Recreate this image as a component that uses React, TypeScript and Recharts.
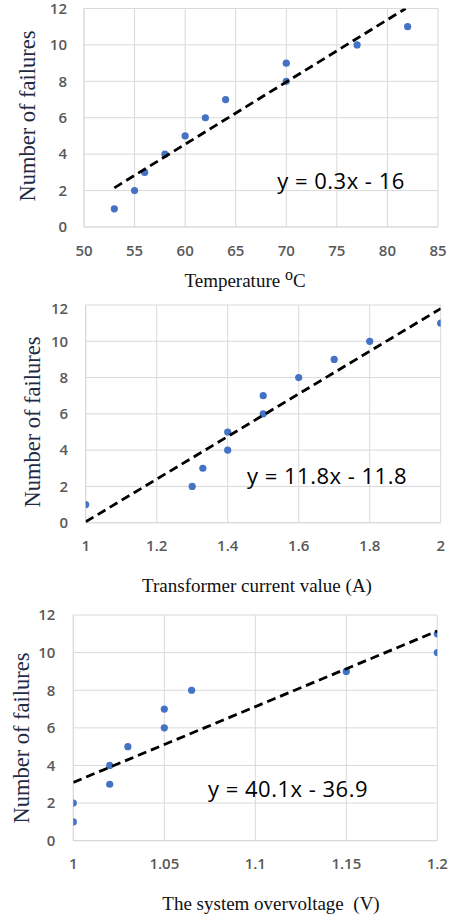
import React from "react";
import { ScatterChart, Scatter, XAxis, YAxis, CartesianGrid } from "recharts";

// Chart 1: temperature
const tempX = [53, 55, 56, 58, 60, 62, 64, 70, 70, 77, 82];
const tempY = [1, 2, 3, 4, 5, 6, 7, 8, 9, 10, 11];
const tempTrend = [
  { x: 53, y: 2.15 },
  { x: 81.8, y: 12 },
];
const tempTicks = [50, 55, 60, 65, 70, 75, 80, 85];

// Chart 2: transformer current
const currX = [1, 1.3, 1.33, 1.4, 1.4, 1.5, 1.5, 1.6, 1.7, 1.8, 2];
const currY = [1, 2, 3, 4, 5, 6, 7, 8, 9, 10, 11];
const currTrend = [
  { x: 1, y: 0.05 },
  { x: 2, y: 11.8 },
];
const currTicks = [1, 1.2, 1.4, 1.6, 1.8, 2];

// Chart 3: overvoltage
const voltX = [1, 1, 1.02, 1.02, 1.03, 1.05, 1.05, 1.065, 1.15, 1.2, 1.2];
const voltY = [1, 2, 3, 4, 5, 6, 7, 8, 9, 10, 11];
const voltTrend = [
  { x: 1, y: 3.1 },
  { x: 1.2, y: 11.15 },
];
const voltTicks = [1, 1.05, 1.1, 1.15, 1.2];

const yTicks = [0, 2, 4, 6, 8, 10, 12];

const zip = (xs: number[], ys: number[]) => xs.map((x, i) => ({ x, y: ys[i] }));

const tickStyle = { fontFamily: "'Open Sans'", fontSize: 15, fill: "#595959", fontWeight: 600 };
const serif = "'Liberation Serif', 'Times New Roman', serif";

const Dot = (p: any) => <circle cx={p.cx} cy={p.cy} r={3.6} fill="#4472C4" />;
const NoDot = () => <g />;

type PanelProps = {
  top: number;
  height: number;
  margin: { top: number; left: number; right: number; bottom: number };
  data: { x: number; y: number }[];
  trend: { x: number; y: number }[];
  xTicks: number[];
  xDomain: [number, number];
  yTickMargin: number;
  xTickMargin: number;
};

const Panel = ({ top, height, margin, data, trend, xTicks, xDomain, yTickMargin, xTickMargin }: PanelProps) => (
  <div style={{ position: "absolute", left: 0, top }}>
    <ScatterChart width={454} height={height} margin={margin}>
      <CartesianGrid stroke="#d9d9d9" strokeWidth={1} />
      <XAxis
        type="number"
        dataKey="x"
        domain={xDomain}
        ticks={xTicks}
        tick={tickStyle}
        tickLine={false}
        tickSize={0}
        tickMargin={xTickMargin}
        axisLine={{ stroke: "#d9d9d9" }}
        height={30}
        allowDataOverflow
      />
      <YAxis
        type="number"
        dataKey="y"
        domain={[0, 12]}
        ticks={yTicks}
        tick={tickStyle}
        tickLine={false}
        tickSize={0}
        tickMargin={yTickMargin}
        axisLine={{ stroke: "#d9d9d9" }}
        width={40}
        allowDataOverflow
      />
      <Scatter data={data} shape={Dot} isAnimationActive={false} />
      <Scatter
        data={trend}
        shape={NoDot}
        line={{ stroke: "#000", strokeWidth: 2.8, strokeDasharray: "9 5" }}
        isAnimationActive={false}
      />
    </ScatterChart>
  </div>
);

const Txt = ({ x, y, children, style }: any) => (
  <div
    style={{
      position: "absolute",
      left: x,
      top: y,
      transform: "translate(-50%, -50%)",
      whiteSpace: "nowrap",
      ...style,
    }}
  >
    {children}
  </div>
);

const YLab = ({ x, y }: { x: number; y: number }) => (
  <div
    style={{
      position: "absolute",
      left: x,
      top: y,
      transform: "translate(-50%, -50%) rotate(-90deg)",
      whiteSpace: "nowrap",
      fontFamily: serif,
      fontSize: 22.5,
      color: "#1f2a44",
      lineHeight: 1,
    }}
  >
    Number of failures
  </div>
);

const eqStyle = { fontFamily: "'Open Sans'", fontSize: 22, letterSpacing: 0.5, color: "#000", lineHeight: 1 };
const xLabStyle = { fontFamily: serif, fontSize: 19, color: "#111", lineHeight: 1 };

export default function App() {
  return (
    <div style={{ position: "absolute", left: 0, top: 0, width: 454, height: 917, background: "#fff", overflow: "hidden" }}>
      <Panel
        top={0}
        height={300}
        margin={{ top: 8.5, left: 44, right: 16, bottom: 43 }}
        data={zip(tempX, tempY)}
        trend={tempTrend}
        xTicks={tempTicks}
        xDomain={[50, 85]}
        yTickMargin={17}
        xTickMargin={18}
      />
      <Panel
        top={300}
        height={300}
        margin={{ top: 5, left: 45.7, right: 13.3, bottom: 47.3 }}
        data={zip(currX, currY)}
        trend={currTrend}
        xTicks={currTicks}
        xDomain={[1, 2]}
        yTickMargin={17.5}
        xTickMargin={18}
      />
      <Panel
        top={600}
        height={317}
        margin={{ top: 15, left: 33.3, right: 16.7, bottom: 46.3 }}
        data={zip(voltX, voltY)}
        trend={voltTrend}
        xTicks={voltTicks}
        xDomain={[1, 1.2]}
        yTickMargin={18}
        xTickMargin={18}
      />
      <YLab x={28} y={116} />
      <YLab x={33} y={422} />
      <YLab x={22} y={738} />
      <Txt x={341} y={180} style={eqStyle}>y = 0.3x - 16</Txt>
      <Txt x={327} y={475} style={eqStyle}>y = 11.8x - 11.8</Txt>
      <Txt x={288} y={788} style={eqStyle}>y = 40.1x - 36.9</Txt>
      <Txt x={245} y={278} style={xLabStyle}>
        Temperature <sup style={{ fontSize: 16, verticalAlign: "7px" }}>o</sup>C
      </Txt>
      <Txt x={257} y={585} style={xLabStyle}>Transformer current value (A)</Txt>
      <Txt x={271} y={903} style={xLabStyle}>The system overvoltage&nbsp; (V)</Txt>
    </div>
  );
}
